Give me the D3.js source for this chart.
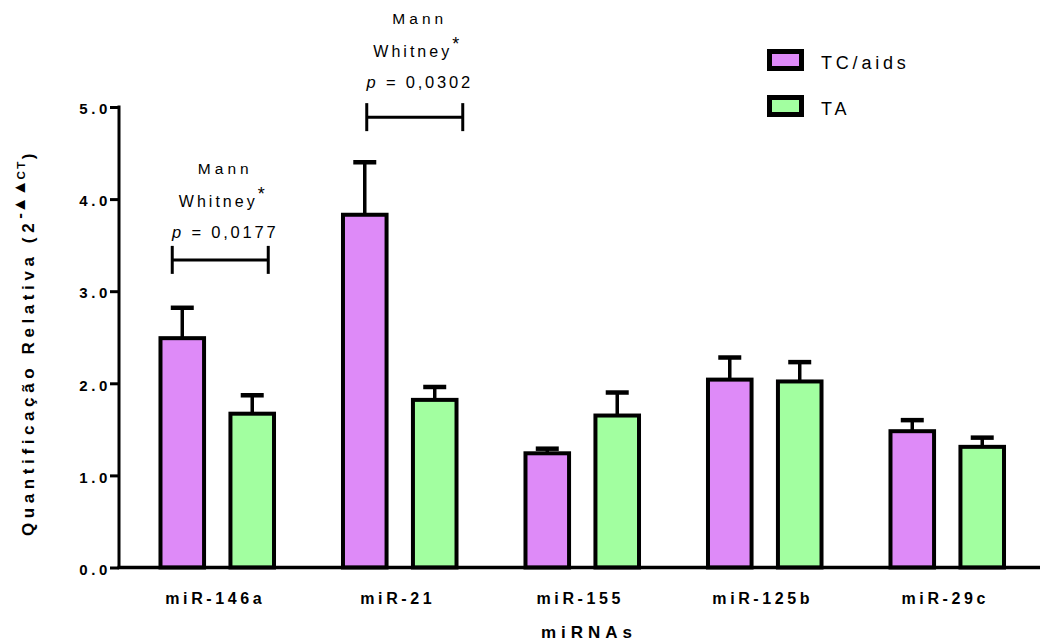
<!DOCTYPE html>
<html>
<head>
<meta charset="utf-8">
<script src="https://cdn.jsdelivr.net/npm/d3@7"></script>
<style>
  body { margin: 0; background: #fff; }
  text { font-family: "Liberation Sans", Arial, sans-serif; fill: #000; }
</style>
</head>
<body>
<div id="chart"></div>
<script>
// data
var mirnas = ["miR-146a", "miR-21", "miR-155", "miR-125b", "miR-29c"];
var groups = ["TC/aids", "TA"];
var tcValues = [2.49, 3.83, 1.24, 2.04, 1.48];
var tcErrors = [0.33, 0.57, 0.05, 0.24, 0.12];
var taValues = [1.67, 1.82, 1.65, 2.02, 1.31];
var taErrors = [0.20, 0.14, 0.25, 0.21, 0.10];
var yTicks = [0, 1, 2, 3, 4, 5];
var annotations = [
  { mirna: "miR-146a", level: 3.34, p: "0,0177" },
  { mirna: "miR-21", level: 4.89, p: "0,0302" }
];

var colors = { "TC/aids": "#de8af8", "TA": "#a2ffa0" };

var width = 1048, height = 641;

var svg = d3.select("#chart")
  .append("svg")
  .attr("width", width)
  .attr("height", height);

// scales
var x0 = d3.scaleBand()
  .domain(mirnas)
  .range([126, 1038.5])
  .paddingInner(0.356)
  .paddingOuter(0.178);

var x1 = d3.scaleBand()
  .domain(groups)
  .range([0, x0.bandwidth()])
  .paddingInner(0.32);

var y = d3.scaleLinear().domain([0, 5]).range([567.5, 107]);

// build rows
var rows = [];
mirnas.forEach(function (m, i) {
  rows.push({ mirna: m, group: "TC/aids", value: tcValues[i], err: tcErrors[i] });
  rows.push({ mirna: m, group: "TA", value: taValues[i], err: taErrors[i] });
});

// y axis
var yAxis = svg.append("g")
  .attr("transform", "translate(119,0)")
  .call(d3.axisLeft(y).tickValues(yTicks).tickFormat(d3.format(".1f")).tickSize(9).tickPadding(-1));
yAxis.select(".domain").attr("stroke-width", 3).attr("d", "M0," + (y(0) + 1.5) + "V" + (y(5) - 1.5));
yAxis.selectAll(".tick line").attr("stroke-width", 3);
yAxis.selectAll(".tick text")
  .style("font-size", "15px")
  .style("font-weight", "bold")
  .style("letter-spacing", "3.6px")
  .attr("dy", "0.45em");

// bars
var barG = svg.append("g");
barG.selectAll("rect")
  .data(rows)
  .enter().append("rect")
  .attr("x", function (d) { return x0(d.mirna) + x1(d.group) + 2; })
  .attr("width", x1.bandwidth() - 4)
  .attr("y", function (d) { return y(d.value); })
  .attr("height", function (d) { return y(0) - y(d.value); })
  .attr("fill", function (d) { return colors[d.group]; })
  .attr("stroke", "#000")
  .attr("stroke-width", 4);

// error bars (upper only)
var errG = svg.append("g").attr("stroke", "#000");
rows.forEach(function (d) {
  var cx = x0(d.mirna) + x1(d.group) + x1.bandwidth() / 2;
  errG.append("line")
    .attr("x1", cx).attr("x2", cx)
    .attr("y1", y(d.value)).attr("y2", y(d.value + d.err))
    .attr("stroke-width", 3.5);
  errG.append("line")
    .attr("x1", cx - 11.5).attr("x2", cx + 11.5)
    .attr("y1", y(d.value + d.err)).attr("y2", y(d.value + d.err))
    .attr("stroke-width", 4.5);
});

// x axis line
svg.append("line")
  .attr("x1", 117.5).attr("x2", 1040)
  .attr("y1", y(0)).attr("y2", y(0))
  .attr("stroke", "#000").attr("stroke-width", 3.5);

// x labels
svg.append("g").selectAll("text")
  .data(mirnas)
  .enter().append("text")
  .attr("x", function (d) { return x0(d) + x0.bandwidth() / 2 - 2; })
  .attr("y", 603.5)
  .attr("text-anchor", "middle")
  .style("font-size", "16px")
  .style("font-weight", "bold")
  .style("letter-spacing", "3.6px")
  .text(function (d) { return d; });

svg.append("text")
  .attr("x", 589)
  .attr("y", 638)
  .attr("text-anchor", "middle")
  .style("font-size", "17px")
  .style("font-weight", "bold")
  .style("letter-spacing", "5px")
  .text("miRNAs");

// y title
var yt = svg.append("text")
  .attr("transform", "translate(34,536) rotate(-90)")
  .attr("text-anchor", "start")
  .style("font-size", "17px")
  .style("font-weight", "bold")
  .style("letter-spacing", "4.6px");
yt.append("tspan").text("Quantificação Relativa (2");
yt.append("tspan").attr("dy", -9).style("font-size", "17px").style("letter-spacing", "0px").text("-▲▲");
yt.append("tspan").style("font-size", "11.5px").style("letter-spacing", "2.5px").text("CT");
yt.append("tspan").attr("dy", 9).text(")");

// annotations
var textGap = [22, 29];
annotations.forEach(function (a, i) {
  var cx = x0(a.mirna) + x0.bandwidth() / 2 + (i === 0 ? 3 : 15);
  var by = y(a.level);
  var ty = by - textGap[i];
  var g = svg.append("g");
  g.append("line").attr("x1", cx - 48).attr("x2", cx + 48).attr("y1", by).attr("y2", by)
    .attr("stroke", "#000").attr("stroke-width", 3);
  [cx - 48, cx + 48].forEach(function (ex) {
    g.append("line").attr("x1", ex).attr("x2", ex).attr("y1", by - 14).attr("y2", by + 14)
      .attr("stroke", "#000").attr("stroke-width", 3);
  });
  g.append("text").attr("x", cx + 5).attr("y", ty - 64).attr("text-anchor", "middle")
    .style("font-size", "15.5px").style("letter-spacing", "4px").text("Mann");
  var w = g.append("text").attr("x", cx + 3).attr("y", ty - 31).attr("text-anchor", "middle")
    .style("font-size", "16px").style("letter-spacing", "3px");
  w.append("tspan").text("Whitney");
  w.append("tspan").attr("dy", -7).style("font-size", "18px").text("*");
  var p = g.append("text").attr("x", cx + 5).attr("y", ty).attr("text-anchor", "middle")
    .style("font-size", "16.5px").style("letter-spacing", "2.8px");
  p.append("tspan").style("font-style", "italic").text("p");
  p.append("tspan").text(" = " + a.p);
});

// legend
var legend = svg.append("g");
groups.forEach(function (gname, i) {
  var ly = 49 + i * 46;
  legend.append("rect")
    .attr("x", 769.5).attr("y", ly + 2.5)
    .attr("width", 32).attr("height", 17)
    .attr("fill", colors[gname])
    .attr("stroke", "#000").attr("stroke-width", 5);
  legend.append("text")
    .attr("x", 821).attr("y", ly + 19.5)
    .style("font-size", "18px")
    .style("letter-spacing", "3.8px")
    .text(gname);
});
</script>
</body>
</html>
